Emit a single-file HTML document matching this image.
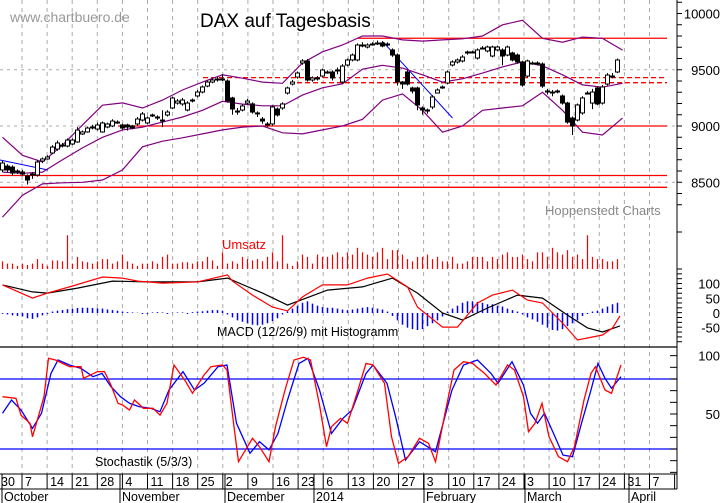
<!DOCTYPE html>
<html><head><meta charset="utf-8"><style>
html,body{margin:0;padding:0;background:#fff;}
svg{display:block;font-family:"Liberation Sans",Arial,sans-serif;}
</style></head><body>
<svg id="chart" width="723" height="503" viewBox="0 0 723 503" xmlns="http://www.w3.org/2000/svg">
<rect x="0" y="0" width="723" height="503" fill="#fff"/>
<g id="grid"></g>
<g id="refs"></g>
<g id="bands"></g>
<g id="candles"></g>
<g id="vol"></g>
<g id="macd"></g>
<g id="stoch"></g>
<g id="axis"></g>
<text x="10" y="22" font-size="14" fill="#999">www.chartbuero.de</text>
<text x="200" y="27" font-size="19" fill="#000">DAX auf Tagesbasis</text>
<text x="545" y="215" font-size="13" fill="#888">Hoppenstedt Charts</text>
<text x="222" y="249" font-size="13" fill="#f00">Umsatz</text>
<text x="217" y="336" font-size="12.5" fill="#000">MACD (12/26/9) mit Histogramm</text>
<text x="95" y="466" font-size="12.5" fill="#000">Stochastik (5/3/3)</text>
</svg>
<script>
const opens=[8609,8644,8635,8600,8591,8556,8564,8564,8689,8707,8760,8795,8822,8822,8840,8858,8929,8947,8982,8973,8947,8991,9000,9035,9009,9009,9000,9018,9053,9027,9089,9071,9053,9098,9160,9204,9196,9142,9222,9267,9302,9355,9391,9409,9418,9400,9249,9133,9142,9204,9196,9116,9062,9018,9018,9151,9160,9293,9373,9435,9560,9578,9409,9427,9444,9480,9480,9498,9391,9542,9587,9587,9720,9702,9729,9729,9738,9720,9676,9631,9391,9480,9338,9338,9160,9142,9169,9293,9338,9382,9542,9569,9578,9649,9658,9604,9693,9667,9622,9676,9676,9631,9649,9631,9569,9444,9560,9551,9551,9311,9302,9311,9267,9204,9071,9053,9116,9293,9204,9338,9204,9373,9444,9480];
const closes=[8671,8609,8582,8591,8573,8520,8573,8680,8707,8724,8813,8849,8831,8875,8875,8964,8947,8982,8991,9009,9027,9018,9044,9035,8982,8991,8982,9062,9107,9071,9098,9080,9053,9124,9249,9222,9231,9204,9231,9302,9347,9391,9409,9418,9418,9222,9151,9133,9178,9222,9124,9107,9044,9018,9169,9098,9196,9338,9391,9471,9578,9409,9427,9427,9498,9480,9427,9498,9533,9587,9631,9720,9720,9720,9729,9738,9711,9729,9631,9391,9373,9373,9311,9187,9142,9133,9258,9320,9347,9480,9569,9587,9613,9658,9658,9676,9693,9702,9702,9702,9622,9702,9587,9569,9364,9578,9560,9560,9355,9302,9302,9302,9204,9035,9000,9187,9249,9293,9302,9196,9347,9453,9444,9587];
const highs=[8690,8660,8650,8615,8610,8570,8590,8700,8720,8740,8830,8870,8850,8890,8890,8990,8960,8995,9010,9030,9040,9030,9060,9050,9020,9020,9010,9080,9125,9085,9110,9095,9140,9140,9260,9240,9250,9220,9245,9320,9360,9405,9425,9435,9460,9415,9260,9160,9195,9240,9210,9130,9080,9035,9185,9165,9210,9350,9410,9485,9595,9595,9440,9445,9510,9495,9495,9520,9550,9600,9645,9735,9745,9735,9745,9760,9755,9745,9690,9645,9400,9495,9350,9350,9175,9155,9275,9335,9360,9495,9585,9600,9630,9670,9670,9690,9710,9715,9715,9715,9690,9715,9660,9645,9580,9590,9575,9575,9565,9330,9320,9325,9280,9215,9085,9200,9265,9310,9330,9350,9365,9470,9470,9600];
const lows=[8590,8590,8560,8575,8555,8480,8530,8550,8670,8700,8750,8780,8810,8810,8830,8850,8920,8940,8970,8960,8940,8980,8990,9020,8970,8960,8970,9005,9040,9015,9080,9055,8990,9085,9150,9190,9180,9130,9210,9255,9290,9345,9380,9395,9400,9210,9100,9100,9130,9190,9110,9080,9020,8990,9000,9085,9145,9280,9360,9420,9545,9395,9395,9405,9430,9465,9405,9460,9375,9530,9575,9575,9700,9690,9715,9720,9700,9710,9615,9360,9330,9360,9290,9140,9100,9110,9150,9305,9330,9370,9530,9555,9565,9635,9645,9590,9680,9655,9610,9665,9540,9620,9575,9555,9350,9430,9545,9540,9340,9280,9265,9290,9190,9020,8920,9040,9100,9280,9150,9185,9190,9360,9425,9470];
const bandDays=[0,4,8,12,16,20,24,28,32,36,40,44,48,52,56,60,64,68,72,76,80,84,88,92,96,100,104,108,112,116,120,124];
const bandUpper=[8900,8740,8680,8830,9010,9185,9205,9160,9230,9320,9390,9455,9425,9390,9380,9560,9660,9720,9800,9800,9765,9755,9765,9775,9800,9900,9940,9780,9745,9790,9780,9675];
const bandMiddle=[8590,8580,8590,8700,8805,8900,8965,8990,9035,9080,9140,9220,9195,9180,9180,9275,9340,9375,9505,9540,9515,9455,9390,9420,9470,9525,9570,9535,9455,9365,9345,9380];
const bandLower=[8190,8385,8485,8495,8500,8520,8610,8815,8865,8895,8930,8965,8990,9000,8940,8930,8965,9000,9060,9230,9285,9140,8945,9000,9140,9160,9180,9300,9140,8945,8920,9070];
const volumes=[17,12,12,7,12,9,12,22,12,7,19,19,17,75,12,27,17,15,12,17,22,22,12,17,32,17,12,7,12,12,17,12,27,32,12,12,15,15,12,17,17,27,19,7,37,12,17,12,27,22,19,22,17,27,37,17,75,12,7,17,32,27,12,32,27,27,32,37,27,37,32,47,37,32,27,37,47,22,42,42,32,22,17,27,27,32,22,27,17,17,27,12,12,17,27,27,27,17,27,22,32,37,27,27,32,22,17,37,37,27,47,37,32,42,27,32,22,75,27,22,22,17,17,22];
const macdDays=[0,6,9,14,20,24,27,32,39,45,46,50,54,57,60,64,69,73,77,81,83,88,91,95,98,102,105,108,112,115,120,122,123.5];
const macdVals=[96,51,68,92,123,119,109,102,106,130,109,61,20,7,55,96,96,119,133,89,20,-48,-48,34,61,78,44,34,-34,-92,-75,-51,-10];
const signalDays=[0,6,9,15,22,29,39,45,52,57,65,72,78,83,88,92,97,103,108,113,117,120,123.5];
const signalVals=[96,72,68,85,109,106,106,119,68,27,78,89,119,68,0,-24,17,61,51,-7,-51,-65,-44];
const histVals=[-3,-5,-8,-10,-12,-18,-20,-15,-8,0,5,8,10,13,15,17,18,18,17,16,15,12,10,8,5,3,2,1,0,0,2,3,2,0,1,2,2,0,3,5,6,8,10,10,8,-5,-15,-25,-30,-35,-40,-42,-40,-35,-28,-18,-5,5,15,25,35,40,32,25,20,18,18,15,12,10,12,15,18,20,18,15,12,5,-10,-25,-40,-50,-55,-58,-55,-45,-35,-25,-12,5,15,25,35,40,40,38,35,30,30,25,22,15,10,5,-5,-15,-22,-30,-40,-50,-58,-60,-55,-45,-35,-25,-10,0,5,8,15,22,30,35];
const kDays=[0,2.7,3.7,5.5,6,8.3,9.2,10.6,13.4,15.7,16.2,19,20.4,21.7,23.1,24,25.4,26.4,28.2,30.1,31.5,32.9,34.3,36.6,38,40.3,41.7,44,44.9,46.3,47.2,48.6,50,51.4,53.3,54.6,56.5,58.3,60.2,61.6,63.4,64.8,65.8,67.6,69,70.9,72.7,74.1,76.4,77.8,79.2,81.1,83.4,85.2,86.6,88.5,90.3,92.2,94,96.4,98.7,101,102.4,104.2,105.2,106.5,107.9,109.3,111.2,113,114.4,116.3,117.7,118.6,120.5,121.8,123.7];
const kVals=[64.8,63.4,49.1,42,30.5,64.8,97.7,96.3,90.5,90.5,80.6,86.3,86.3,74.8,59.2,57.7,53.4,62,54.9,54.9,49.1,59.2,92,78,67.7,83.4,90.5,92,87.7,39.1,9.1,19.2,29.2,22,9.1,39.1,70.6,96.3,98.6,96.3,57.7,22,39.1,46.3,42,67.7,93.4,92,76.3,30.5,7.7,13.4,29.2,24.9,9.1,50.6,87.7,94.8,93.4,84.8,74.8,92,87.7,64.8,34.8,42,59.2,30.5,13.4,9.1,22,62,84.8,90.5,70.6,67.7,92];
const dDays=[0,1.8,3.7,6,7.8,9.7,11.1,13.4,15.7,18.1,19.9,21.7,23.6,25.4,27.3,29.6,31.5,33.3,36.1,38.4,40.3,43.1,44.9,46.8,49.5,51.4,53.3,55.1,57,59.3,61.1,63.4,65.8,68.1,69.9,72.7,74.1,76.9,78.7,80.6,83.4,86.6,89.9,92.2,95,97.7,99.1,101.9,104.2,105.6,107,108.4,110.2,112.1,114,115.8,117.7,119.1,120.5,121.8,123.7];
const dVals=[50.6,62,53.4,37.7,50.6,84.8,96.3,92,89.1,82,84.8,73.4,64.8,59.2,56.3,54.9,52,70.6,86.3,70.6,76.3,90.5,92,42,16.3,26.3,19.2,33.4,62,93.4,97.7,70.6,33.4,46.3,53.4,84.8,92,76.3,46.3,10.6,26.3,17.7,70.6,92,96.3,84.8,76.3,94.8,74.8,50.6,42,50.6,33.4,14.8,13.4,42,70.6,93.4,80.6,72,82];
const priceTicks=[10000,9500,9000,8500];
const macdTicks=[100,50,0,-50];
const stochTicks=[100,50];
const weekLabels=['7','14','21','28','4','11','18','25','2','9','16','23','6','13','20','27','3','10','17','24','3','10','17','24','31','7'];
const monthLabels=['October','November','December','2014','February','March','April'];
const monthX=[2,120,225,314,424,525,629];
const supportLevels=[9780,9000,8560,8455];
const dashedLevels=[9430,9385];

const NS='http://www.w3.org/2000/svg';
const xD=d=>2.5+5*d;
const yP=p=>126-(p-9000)*0.1125;
const yV=v=>269-v*0.45;
const yM=v=>313-v*0.293;
const yS=v=>414-(v-50)*1.167;
const weekX=k=>22+25.1*k;
function mk(parent,tag,attrs){const e=document.createElementNS(NS,tag);for(const k in attrs)e.setAttribute(k,attrs[k]);document.getElementById(parent).appendChild(e);return e;}
function poly(parent,days,vals,yf,color,w,name){
  const pts=days.map((d,i)=>xD(d).toFixed(1)+','+yf(vals[i]).toFixed(1)).join(' ');
  const e=mk(parent,'polyline',{points:pts,fill:'none',stroke:color,'stroke-width':w});
  
  
}
for(let k=0;k<26;k++){
  const e=mk('grid','line',{x1:weekX(k),x2:weekX(k),y1:0,y2:474,stroke:'#aaa','stroke-dasharray':'4,4','stroke-width':1});
  
  
}
[9500,9000,8500].forEach(p=>{
  const e=mk('grid','line',{x1:0,x2:677,y1:yP(p),y2:yP(p),stroke:'#aaa','stroke-dasharray':'3,4'});
  
  
});
const supStart=[358,118,0,0];
supportLevels.forEach((p,i)=>{
  const e=mk('refs','line',{x1:supStart[i],x2:667,y1:yP(p),y2:yP(p),stroke:'#f00','stroke-width':1.3});
  
  
});
const dashStart=[203,297];
dashedLevels.forEach((p,i)=>{
  const e=mk('refs','line',{x1:dashStart[i],x2:667,y1:yP(p),y2:yP(p),stroke:'#f00','stroke-width':1.3,'stroke-dasharray':'5,3'});
  
  
});
const tl1=mk('refs','line',{x1:xD(-0.5),y1:yP(8698),x2:xD(9.1),y2:yP(8609),stroke:'#00f','stroke-width':1});


const tl2=mk('refs','line',{x1:xD(76.1),y1:yP(9747),x2:xD(90),y2:yP(9071),stroke:'#00f','stroke-width':1});


poly('bands',bandDays,bandUpper,yP,'#800080',1.2,'bollinger-upper');
poly('bands',bandDays,bandMiddle,yP,'#800080',1.2,'bollinger-middle');
poly('bands',bandDays,bandLower,yP,'#800080',1.2,'bollinger-lower');
opens.forEach((o,i)=>{
  const c=closes[i],x=xD(i);
  const w=mk('candles','line',{x1:x,x2:x,y1:yP(highs[i]),y2:yP(lows[i]),stroke:'#000','stroke-width':1});
  
  
  const top=yP(Math.max(o,c)),bot=yP(Math.min(o,c));
  const b=mk('candles','rect',{x:x-2,y:top,width:4,height:Math.max(1,bot-top),fill:c>=o?'#fff':'#000',stroke:'#000','stroke-width':1});
  
  
});
volumes.forEach((v,i)=>{
  const e=mk('vol','line',{x1:xD(i),x2:xD(i),y1:yV(0),y2:yV(v),stroke:'#f00','stroke-width':1.2});
  
  
});
histVals.forEach((v,i)=>{
  const e=mk('macd','line',{x1:xD(i),x2:xD(i),y1:yM(0),y2:yM(v)+(v===0?1:0),stroke:'#00f','stroke-width':1.5});
  
  
});
poly('macd',signalDays,signalVals,yM,'#000',1.2,'macd-signal-line');
poly('macd',macdDays,macdVals,yM,'#f00',1.2,'macd-line');
[80,20].forEach(v=>{
  const e=mk('stoch','line',{x1:0,x2:677,y1:yS(v),y2:yS(v),stroke:'#00f','stroke-width':1.2});
  
  
});
poly('stoch',dDays,dVals,yS,'#00f',1.3,'stochastic-d-line');
poly('stoch',kDays,kVals,yS,'#f00',1.3,'stochastic-k-line');
function ln(x1,y1,x2,y2,name,w){const e=mk('axis','line',{x1:x1,y1:y1,x2:x2,y2:y2,stroke:'#000','stroke-width':w||1});}
function tx(x,y,s,anchor,name,size){const e=mk('axis','text',{x:x,y:y,'font-size':size||13,'text-anchor':anchor,fill:'#000'});e.textContent=s;}
ln(677,0,677,489,'right-axis-line');
ln(0,347,677,347,'panel-separator',1.3);
ln(0,474,677,474,'date-axis-top');
ln(0,489,677,489,'date-axis-middle');
for(let p=8300;p<=10100;p+=100)ln(677,yP(p),682,yP(p),'price-tick');
priceTicks.forEach(p=>tx(720,yP(p)+5,String(p),'end','price-tick-label'));
ln(677,232,682,232,'volume-tick');
for(let y=269;y<=344;y+=4.85)ln(677,y,682,y,'macd-tick');
macdTicks.forEach(v=>tx(720,yM(v)+5,String(v),'end','macd-tick-label'));
for(let v=0;v<=100;v+=10)ln(670,yS(v),677,yS(v),'stochastic-tick');
stochTicks.forEach(v=>tx(720,yS(v)+5,String(v),'end','stochastic-tick-label'));
for(let k=0;k<27;k++)ln(weekX(k),474,weekX(k),489,'week-separator');
tx(1,486,'30','start','week-label',12.5);
weekLabels.forEach((s,k)=>tx(weekX(k)+3,486,s,'start','week-label',12.5));
monthX.forEach((x,i)=>{ln(x,474,x,503,'month-separator');tx(x+2,501,monthLabels[i],'start','month-label',12.5);});
</script>
</body></html>
